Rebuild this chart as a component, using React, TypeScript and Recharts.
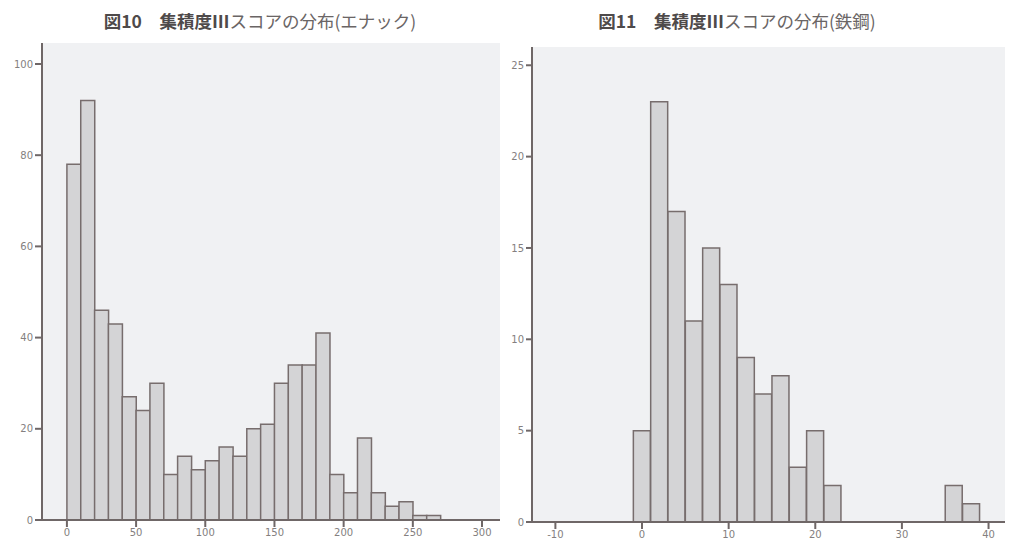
import { BarChart, Bar, XAxis, YAxis, CartesianGrid } from "recharts";

// 図10: bins of 10 (centre values)
const enaBins = [5, 15, 25, 35, 45, 55, 65, 75, 85, 95, 105, 115, 125, 135, 145, 155, 165, 175, 185, 195, 205, 215, 225, 235, 245, 255, 265];
const enaCounts = [78, 92, 46, 43, 27, 24, 30, 10, 14, 11, 13, 16, 14, 20, 21, 30, 34, 34, 41, 10, 6, 18, 6, 3, 4, 1, 1];
const enaXTicks = [0, 50, 100, 150, 200, 250, 300];
const enaYTicks = [0, 20, 40, 60, 80, 100];

// 図11: bins of 2 (centre values)
const steelBins = [0, 2, 4, 6, 8, 10, 12, 14, 16, 18, 20, 22, 36, 38];
const steelCounts = [5, 23, 17, 11, 15, 13, 9, 7, 8, 3, 5, 2, 2, 1];
const steelXTicks = [-10, 0, 10, 20, 30, 40];
const steelYTicks = [0, 5, 10, 15, 20, 25];

const enaData = enaBins.map((x, i) => ({ x, n: enaCounts[i] }));
const steelData = steelBins.map((x, i) => ({ x, n: steelCounts[i] }));

const AXIS = "#6f6767";
const BAR_FILL = "#d4d4d6";
const BAR_EDGE = "#776d6d";
const BG = "#f0f1f3";
const tickStyle = { fontSize: 10, fill: "#847f7f", fontFamily: "DejaVu Sans" };

function Title({ num, tail, left, width }: { num: string; tail: string; left: number; width: number }) {
  return (
    <div
      style={{
        position: "absolute",
        left,
        top: 8,
        width,
        textAlign: "center",
        fontFamily: "'Noto Sans CJK JP'",
        fontSize: 17.5,
        color: "#4e4a4a",
        whiteSpace: "nowrap",
      }}
    >
      <span style={{ fontWeight: 700 }}>{num}</span>
      <span style={{ fontWeight: 400, color: "#6a6565" }}>{tail}</span>
    </div>
  );
}

export default function App() {
  return (
    <div style={{ position: "absolute", left: 0, top: 0, width: 1018, height: 550, background: "#fff", overflow: "hidden" }}>
      <Title num="図10　集積度Ⅲ" tail="スコアの分布(エナック)" left={60} width={400} />
      <Title num="図11　集積度Ⅲ" tail="スコアの分布(鉄鋼)" left={537} width={400} />

      <div style={{ position: "absolute", left: 0, top: 0 }}>
        <BarChart
          width={510}
          height={550}
          data={enaData}
          margin={{ top: 43, right: 10, bottom: 0, left: 0 }}
          barCategoryGap={0}
          barGap={0}
        >
          <CartesianGrid fill={BG} horizontal={false} vertical={false} />
          <XAxis
            dataKey="x"
            type="number"
            domain={[-18, 313]}
            ticks={enaXTicks}
            allowDataOverflow
            height={30}
            stroke={AXIS}
            strokeWidth={2}
            tickSize={7}
            tick={tickStyle}
            tickLine={{ stroke: AXIS, strokeWidth: 2 }}
          />
          <YAxis
            type="number"
            domain={[0, 104.6]}
            ticks={enaYTicks}
            allowDataOverflow
            width={42}
            stroke={AXIS}
            strokeWidth={2}
            tickSize={7}
            tick={tickStyle}
            tickLine={{ stroke: AXIS, strokeWidth: 2 }}
          />
          <Bar dataKey="n" fill={BAR_FILL} stroke={BAR_EDGE} strokeWidth={1.5} isAnimationActive={false} />
        </BarChart>
      </div>

      <div style={{ position: "absolute", left: 510, top: 0 }}>
        <BarChart
          width={508}
          height={550}
          data={steelData}
          margin={{ top: 47, right: 13, bottom: 0, left: 0 }}
          barCategoryGap={0}
          barGap={0}
        >
          <CartesianGrid fill={BG} horizontal={false} vertical={false} />
          <XAxis
            dataKey="x"
            type="number"
            domain={[-12.7, 41.9]}
            ticks={steelXTicks}
            allowDataOverflow
            height={28}
            stroke={AXIS}
            strokeWidth={2}
            tickSize={7}
            tick={tickStyle}
            tickLine={{ stroke: AXIS, strokeWidth: 2 }}
          />
          <YAxis
            type="number"
            domain={[0, 26]}
            ticks={steelYTicks}
            allowDataOverflow
            width={22}
            stroke={AXIS}
            strokeWidth={2}
            tickSize={6}
            tick={tickStyle}
            tickLine={{ stroke: AXIS, strokeWidth: 2 }}
          />
          <Bar dataKey="n" fill={BAR_FILL} stroke={BAR_EDGE} strokeWidth={1.5} isAnimationActive={false} />
        </BarChart>
      </div>
    </div>
  );
}
